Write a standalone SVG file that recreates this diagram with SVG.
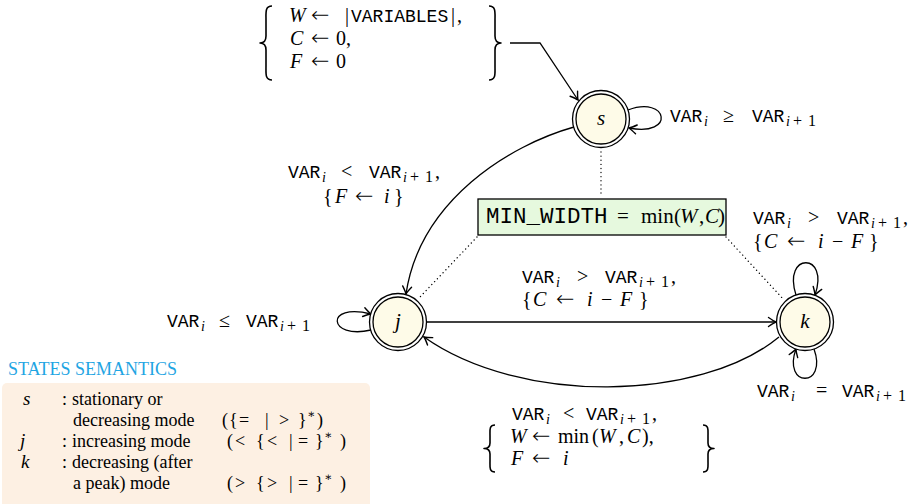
<svg xmlns="http://www.w3.org/2000/svg" width="908" height="504" viewBox="0 0 908 504">
<style>
.m{font-family:"Liberation Mono","DejaVu Sans Mono",monospace;font-size:18px;fill:#000}
.mb{font-family:"Liberation Mono","DejaVu Sans Mono",monospace;font-size:22.5px;fill:#000}
.v{font-family:"Liberation Serif","DejaVu Serif",serif;font-style:italic;font-size:20px;fill:#000}
.r{font-family:"Liberation Serif","DejaVu Serif",serif;font-size:20px;fill:#000}
.ar{font-family:"DejaVu Sans",sans-serif;font-size:22px;font-weight:200;fill:#000}
.vb{font-family:"Liberation Serif","DejaVu Serif",serif;font-style:italic;font-size:21px;fill:#000}
.rb{font-family:"Liberation Serif","DejaVu Serif",serif;font-size:21px;fill:#000}
.vs{font-family:"Liberation Serif","DejaVu Serif",serif;font-style:italic;font-size:14px;fill:#000}
.rs{font-family:"Liberation Serif","DejaVu Serif",serif;font-size:16px;fill:#000}
.lg{font-family:"Liberation Serif","DejaVu Serif",serif;font-size:18px;fill:#000}
.lgi{font-family:"Liberation Serif","DejaVu Serif",serif;font-style:italic;font-size:19px;fill:#000}
.lgs{font-family:"Liberation Serif","DejaVu Serif",serif;font-size:12px;fill:#000}
.ttl{font-family:"Liberation Serif","DejaVu Serif",serif;font-size:18px;fill:#1fa5e3}
.edge{fill:none;stroke:#000;stroke-width:1.3}
.dot{fill:none;stroke:#000;stroke-width:1.3;stroke-dasharray:0.1 4;stroke-linecap:round}
.brace{fill:none;stroke:#000;stroke-width:1.6;stroke-linejoin:round}
.outer{fill:#fff;stroke:#000;stroke-width:1.3}
.inner{fill:#fefbe8;stroke:#000;stroke-width:1.3}
.nl{font-family:"Liberation Serif","DejaVu Serif",serif;font-style:italic;font-size:21px;text-anchor:middle;fill:#000}
</style>
<defs>
<marker id="ah" viewBox="-9 -6 11 12" refX="0" refY="0" markerWidth="11" markerHeight="12" markerUnits="userSpaceOnUse" orient="auto" overflow="visible">
<path d="M-7.5,-4.5 Q-2.5,-1 0,0 Q-2.5,1 -7.5,4.5" fill="none" stroke="#000" stroke-width="1.4" stroke-linecap="round"/>
</marker>
</defs>

<g id="connectors">
<path class="edge" d="M510,43 L540,43 L578,100" marker-end="url(#ah)"/>
<path class="edge" d="M628,110 C668,95 676,137 629,128" marker-end="url(#ah)"/>
<path class="edge" d="M574,127 C510,145 420,200 406,294" marker-end="url(#ah)"/>
<path class="edge" d="M371,330 C328,340 324,302 371,314" marker-end="url(#ah)"/>
<path class="edge" d="M427,322 L776,322" marker-end="url(#ah)"/>
<path class="edge" d="M779,337 C700,402 520,405 424,337" marker-end="url(#ah)"/>
<path class="edge" d="M796,295 C782,252 830,252 815,295" marker-end="url(#ah)"/>
<path class="edge" d="M814,349 C828,388 782,388 796,349" marker-end="url(#ah)"/>
<path class="dot" d="M601,152 L601,197"/>
<path class="dot" d="M477,237 L420,297"/>
<path class="dot" d="M726,237 L784,300"/>
</g>

<g id="node-s">
<circle class="outer" cx="601" cy="119" r="28.5"/>
<circle class="inner" cx="601" cy="119" r="25"/>
<text class="nl" x="601" y="125">s</text>
</g>
<g id="node-j">
<circle class="outer" cx="398" cy="322" r="28.5"/>
<circle class="inner" cx="398" cy="322" r="25"/>
<text class="nl" x="398" y="328">j</text>
</g>
<g id="node-k">
<circle class="outer" cx="805" cy="322" r="28.5"/>
<circle class="inner" cx="805" cy="322" r="25"/>
<text class="nl" x="805" y="328">k</text>
</g>

<g id="node-minwidth">
<rect x="478" y="199" width="248" height="36" fill="#e6f9de" stroke="#000" stroke-width="1.3"/>
<text><tspan class="mb" x="486" y="223">MIN_WIDTH</tspan><tspan class="rb" x="617" y="223">=</tspan><tspan class="rb" x="641" y="223">min</tspan><tspan class="rb" x="674" y="223">(</tspan><tspan class="vb" x="680" y="223">W</tspan><tspan class="rb" x="699" y="223">,</tspan><tspan class="vb" x="705" y="223">C</tspan><tspan class="rb" x="718" y="223">)</tspan></text>
</g>

<g id="init">
<path class="brace" d="M272,6 C265,6 266,12 266,20 L266,36 C266,40 264,43 260,43 C264,43 266,46 266,50 L266,66 C266,74 265,80 272,80"/>
<path class="brace" d="M489,6 C496,6 495,12 495,20 L495,36 C495,40 497,43 501,43 C497,43 495,46 495,50 L495,66 C495,74 496,80 489,80"/>
<text><tspan class="v" x="289" y="22">W</tspan><tspan class="ar" x="311" y="22">←</tspan><tspan class="r" x="345" y="22">|</tspan><tspan class="m" x="351" y="22">VARIABLES</tspan><tspan class="r" x="451" y="22">|</tspan><tspan class="r" x="457" y="22">,</tspan></text>
<text><tspan class="v" x="290" y="45">C</tspan><tspan class="ar" x="311" y="45">←</tspan><tspan class="r" x="336" y="45">0,</tspan></text>
<text><tspan class="v" x="290" y="68">F</tspan><tspan class="ar" x="311" y="68">←</tspan><tspan class="r" x="336" y="68">0</tspan></text>
</g>

<g id="labels">
<text id="lbl-s-loop"><tspan class="m" x="670" y="122">VAR</tspan><tspan class="vs" x="704" y="126">i</tspan><tspan class="r" x="723" y="122">≥</tspan><tspan class="m" x="752" y="122">VAR</tspan><tspan class="vs" x="786" y="126">i</tspan><tspan class="rs" x="793" y="126">+</tspan><tspan class="rs" x="808" y="126">1</tspan></text>

<text id="lbl-sj1"><tspan class="m" x="288" y="178">VAR</tspan><tspan class="vs" x="322" y="182">i</tspan><tspan class="r" x="341" y="178">&lt;</tspan><tspan class="m" x="369" y="178">VAR</tspan><tspan class="vs" x="403" y="182">i</tspan><tspan class="rs" x="410" y="182">+</tspan><tspan class="rs" x="425" y="182">1</tspan><tspan class="r" x="435" y="178">,</tspan></text>
<text id="lbl-sj2"><tspan class="r" x="323" y="203">{</tspan><tspan class="v" x="335" y="203">F</tspan><tspan class="ar" x="355" y="203">←</tspan><tspan class="v" x="384" y="203">i</tspan><tspan class="r" x="394" y="203">}</tspan></text>

<text id="lbl-kk1"><tspan class="m" x="753" y="224">VAR</tspan><tspan class="vs" x="787" y="228">i</tspan><tspan class="r" x="808" y="224">&gt;</tspan><tspan class="m" x="837" y="224">VAR</tspan><tspan class="vs" x="871" y="228">i</tspan><tspan class="rs" x="878" y="228">+</tspan><tspan class="rs" x="893" y="228">1</tspan><tspan class="r" x="903" y="224">,</tspan></text>
<text id="lbl-kk2"><tspan class="r" x="753" y="248">{</tspan><tspan class="v" x="764" y="248">C</tspan><tspan class="ar" x="787" y="248">←</tspan><tspan class="v" x="818" y="248">i</tspan><tspan class="r" x="832" y="248">−</tspan><tspan class="v" x="851" y="248">F</tspan><tspan class="r" x="869" y="248">}</tspan></text>

<text id="lbl-jk1"><tspan class="m" x="522" y="283">VAR</tspan><tspan class="vs" x="556" y="287">i</tspan><tspan class="r" x="577" y="283">&gt;</tspan><tspan class="m" x="605" y="283">VAR</tspan><tspan class="vs" x="639" y="287">i</tspan><tspan class="rs" x="646" y="287">+</tspan><tspan class="rs" x="661" y="287">1</tspan><tspan class="r" x="671" y="283">,</tspan></text>
<text id="lbl-jk2"><tspan class="r" x="522" y="306">{</tspan><tspan class="v" x="533" y="306">C</tspan><tspan class="ar" x="556" y="306">←</tspan><tspan class="v" x="587" y="306">i</tspan><tspan class="r" x="601" y="306">−</tspan><tspan class="v" x="620" y="306">F</tspan><tspan class="r" x="639" y="306">}</tspan></text>

<text id="lbl-j-loop"><tspan class="m" x="167" y="327">VAR</tspan><tspan class="vs" x="201" y="331">i</tspan><tspan class="r" x="219" y="327">≤</tspan><tspan class="m" x="246" y="327">VAR</tspan><tspan class="vs" x="280" y="331">i</tspan><tspan class="rs" x="287" y="331">+</tspan><tspan class="rs" x="302" y="331">1</tspan></text>

<text id="lbl-k-loop"><tspan class="m" x="757" y="397">VAR</tspan><tspan class="vs" x="791" y="401">i</tspan><tspan class="r" x="816" y="397">=</tspan><tspan class="m" x="842" y="397">VAR</tspan><tspan class="vs" x="876" y="401">i</tspan><tspan class="rs" x="883" y="401">+</tspan><tspan class="rs" x="898" y="401">1</tspan></text>

<text id="lbl-kj1"><tspan class="m" x="512" y="420">VAR</tspan><tspan class="vs" x="546" y="424">i</tspan><tspan class="r" x="563" y="420">&lt;</tspan><tspan class="m" x="586" y="420">VAR</tspan><tspan class="vs" x="620" y="424">i</tspan><tspan class="rs" x="627" y="424">+</tspan><tspan class="rs" x="642" y="424">1</tspan><tspan class="r" x="652" y="420">,</tspan></text>
<path class="brace" d="M495,425 C489,425 490,430 490,436 L490,443 C490,446 488,448.5 484,448.5 C488,448.5 490,451 490,454 L490,461 C490,467 489,472 495,472"/>
<path class="brace" d="M703,425 C709,425 708,430 708,436 L708,443 C708,446 710,448.5 714,448.5 C710,448.5 708,451 708,454 L708,461 C708,467 709,472 703,472"/>
<text id="lbl-kj2"><tspan class="v" x="510" y="443">W</tspan><tspan class="ar" x="532" y="443">←</tspan><tspan class="r" x="558" y="443">min</tspan><tspan class="r" x="592" y="443">(</tspan><tspan class="v" x="599" y="443">W</tspan><tspan class="r" x="619" y="443">,</tspan><tspan class="v" x="627" y="443">C</tspan><tspan class="r" x="642" y="443">),</tspan></text>
<text id="lbl-kj3"><tspan class="v" x="511" y="465">F</tspan><tspan class="ar" x="532" y="465">←</tspan><tspan class="v" x="563" y="465">i</tspan></text>
</g>

<g id="legend">
<text class="ttl" x="8" y="375">STATES SEMANTICS</text>
<rect x="2" y="383" width="368" height="126" rx="5" fill="#fdf0e3"/>
<text class="lgi" x="23" y="405">s</text>
<text class="lg" x="62" y="405">:</text>
<text class="lg" x="72" y="405">stationary or</text>
<text class="lg" x="73" y="426">decreasing mode</text>
<text><tspan class="lg" x="222" y="426">(</tspan><tspan class="lg" x="229" y="426">{</tspan><tspan class="lg" x="239" y="426">=</tspan><tspan class="lg" x="265" y="426">|</tspan><tspan class="lg" x="279" y="426">&gt;</tspan><tspan class="lg" x="298" y="426">}</tspan><tspan class="lgs" x="307" y="418">∗</tspan><tspan class="lg" x="317" y="426">)</tspan></text>
<text class="lgi" x="20" y="447">j</text>
<text class="lg" x="62" y="447">:</text>
<text class="lg" x="72" y="447">increasing mode</text>
<text><tspan class="lg" x="227" y="447">(</tspan><tspan class="lg" x="235" y="447">&lt;</tspan><tspan class="lg" x="256" y="447">{</tspan><tspan class="lg" x="267" y="447">&lt;</tspan><tspan class="lg" x="289" y="447">|</tspan><tspan class="lg" x="298" y="447">=</tspan><tspan class="lg" x="315" y="447">}</tspan><tspan class="lgs" x="324" y="439">∗</tspan><tspan class="lg" x="340" y="447">)</tspan></text>
<text class="lgi" x="21" y="468">k</text>
<text class="lg" x="62" y="468">:</text>
<text class="lg" x="72" y="468">decreasing (after</text>
<text class="lg" x="73" y="489">a peak) mode</text>
<text><tspan class="lg" x="227" y="489">(</tspan><tspan class="lg" x="235" y="489">&gt;</tspan><tspan class="lg" x="256" y="489">{</tspan><tspan class="lg" x="267" y="489">&gt;</tspan><tspan class="lg" x="289" y="489">|</tspan><tspan class="lg" x="298" y="489">=</tspan><tspan class="lg" x="315" y="489">}</tspan><tspan class="lgs" x="324" y="481">∗</tspan><tspan class="lg" x="340" y="489">)</tspan></text>
</g>
</svg>
